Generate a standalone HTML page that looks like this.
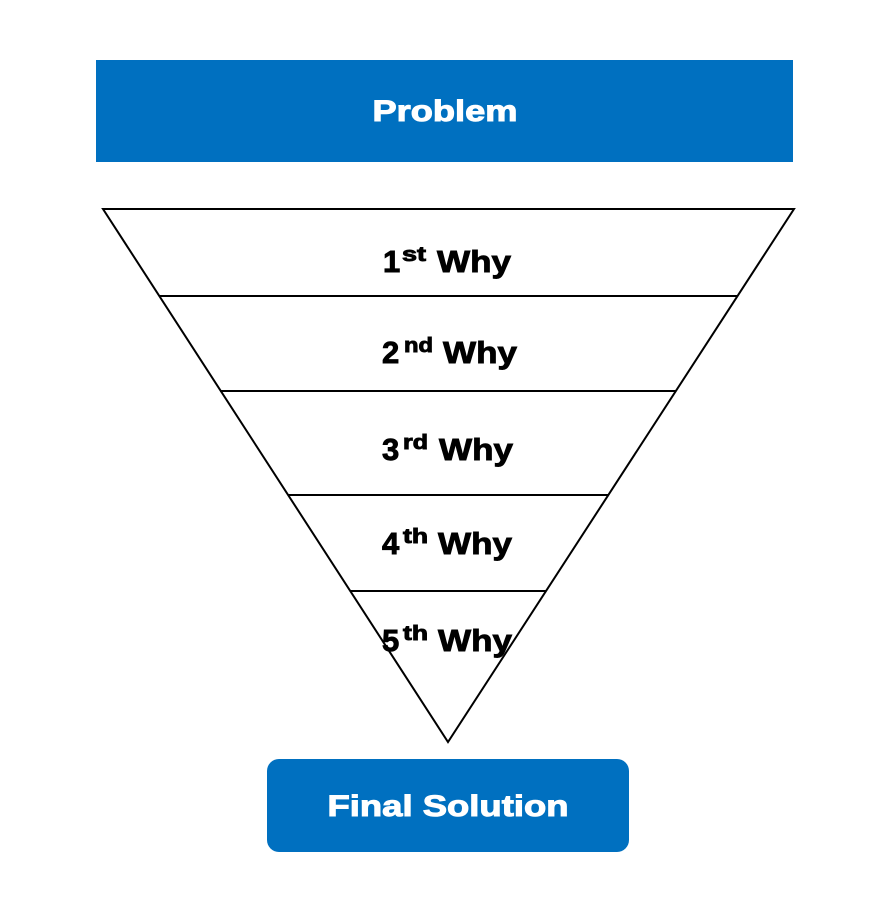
<!DOCTYPE html>
<html><head><meta charset="utf-8"><style>
body{margin:0;background:#fff;width:882px;height:900px;overflow:hidden}
</style></head><body>
<svg width="882" height="900" xmlns="http://www.w3.org/2000/svg" style="position:absolute;left:0;top:0">
<rect x="96" y="60" width="697" height="102" fill="#0070C0"/>
<text x="445" y="121" text-anchor="middle" font-family="Liberation Sans, Arial, sans-serif" font-weight="bold" font-size="30" fill="#fff" stroke="#fff" stroke-width="1" textLength="145" lengthAdjust="spacingAndGlyphs">Problem</text>
<polygon points="103,209 794,209 448,742" fill="#fff" stroke="#000" stroke-width="2"/>
<line x1="159" y1="296" x2="738" y2="296" stroke="#000" stroke-width="2"/>
<line x1="220" y1="391" x2="676" y2="391" stroke="#000" stroke-width="2"/>
<line x1="288" y1="495" x2="609" y2="495" stroke="#000" stroke-width="2"/>
<line x1="350" y1="591" x2="546" y2="591" stroke="#000" stroke-width="2"/>
<g font-family="Liberation Sans, Arial, sans-serif" font-weight="bold" font-size="31" fill="#000" stroke="#000" stroke-width="0.9">
<text x="383" y="272">1</text><text x="402" y="261" font-size="20" textLength="24" lengthAdjust="spacingAndGlyphs">st</text><text x="437" y="272" textLength="74" lengthAdjust="spacingAndGlyphs">Why</text>
<text x="382" y="363">2</text><text x="404" y="352" font-size="20" textLength="29" lengthAdjust="spacingAndGlyphs">nd</text><text x="443" y="363" textLength="74" lengthAdjust="spacingAndGlyphs">Why</text>
<text x="382" y="460">3</text><text x="403" y="449" font-size="20" textLength="25" lengthAdjust="spacingAndGlyphs">rd</text><text x="439" y="460" textLength="74" lengthAdjust="spacingAndGlyphs">Why</text>
<text x="382" y="554">4</text><text x="403" y="543" font-size="20" textLength="25" lengthAdjust="spacingAndGlyphs">th</text><text x="438" y="554" textLength="74" lengthAdjust="spacingAndGlyphs">Why</text>
<text x="382" y="651">5</text><text x="403" y="640" font-size="20" textLength="25" lengthAdjust="spacingAndGlyphs">th</text><text x="438" y="651" textLength="74" lengthAdjust="spacingAndGlyphs">Why</text>
</g>
<rect x="267" y="759" width="362" height="93" rx="12" fill="#0070C0"/>
<text x="448" y="816" text-anchor="middle" font-family="Liberation Sans, Arial, sans-serif" font-weight="bold" font-size="30" fill="#fff" stroke="#fff" stroke-width="1" textLength="241" lengthAdjust="spacingAndGlyphs">Final Solution</text>
</svg>
</body></html>
